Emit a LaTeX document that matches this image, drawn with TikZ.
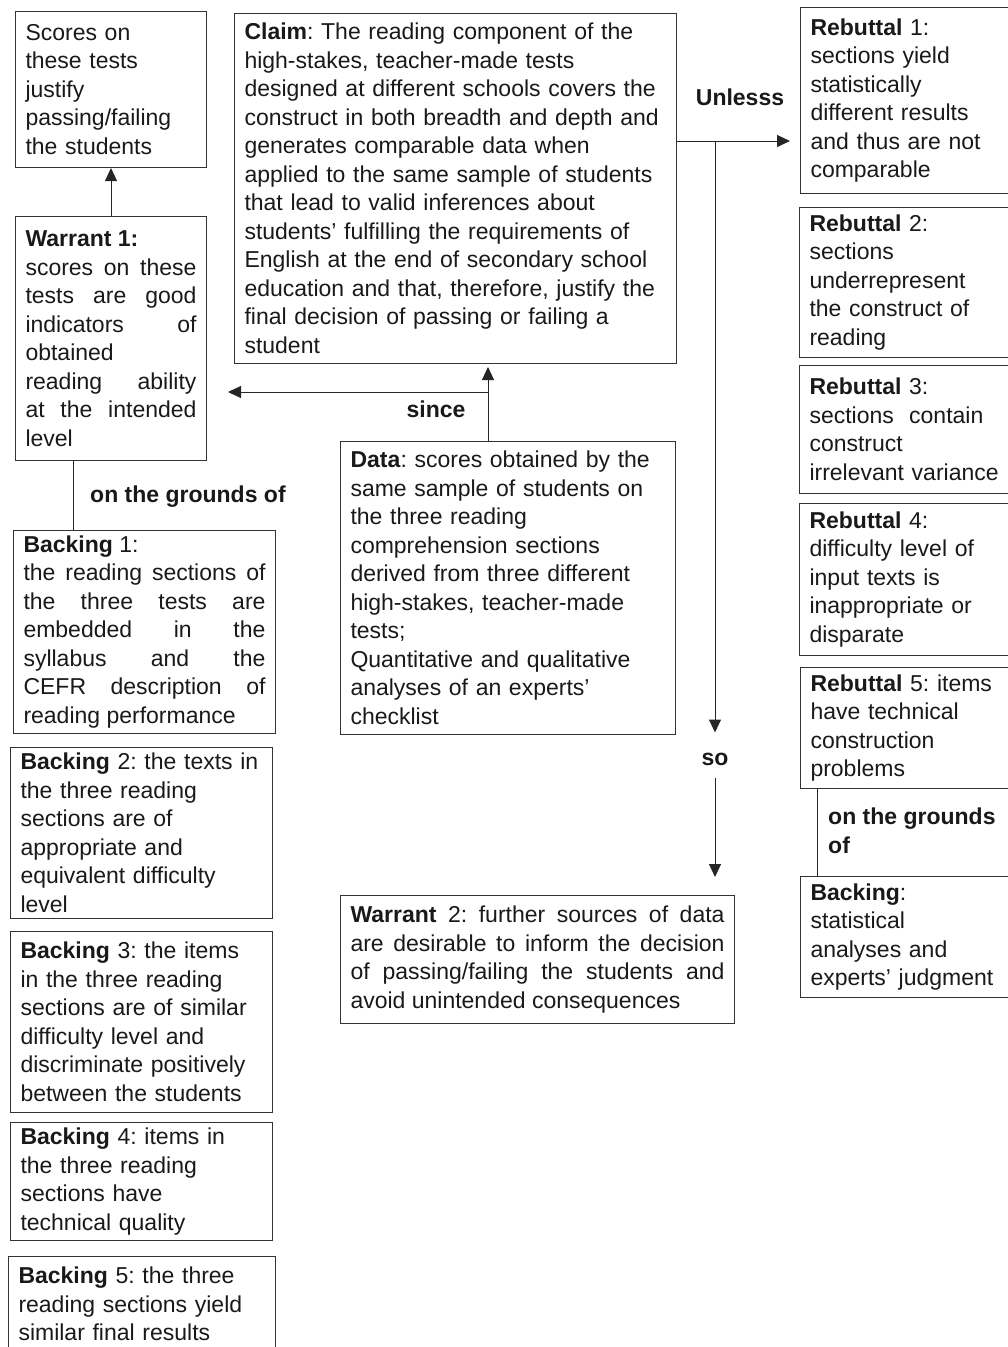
\documentclass[tikz,border=0pt]{standalone}
\usepackage{fontspec}
\setmainfont{Liberation Sans}
\frenchspacing
\usetikzlibrary{arrows.meta}
\usetikzlibrary{calc}
\usetikzlibrary{positioning}
\tikzset{%
  myedge/.style={-{Triangle[width=12pt,length=13pt]}, line width=1pt, draw=black!85},
  myline/.style={line width=1pt, draw=black!85},
  mybox/.style={draw=black!80, line width=1pt, anchor=north west, inner xsep=10pt, inner ysep=0pt, align=left, text=black!90},
  myjust/.style={mybox, align=justify},
  mylabel/.style={font=\fontsize{23}{28.5}\selectfont\bfseries, text=black!90, inner sep=0pt}
}

\begin{document}
\begin{tikzpicture}[x=1pt, y=-1pt, every node/.style={font=\fontsize{23}{28.5}\selectfont}]
\useasboundingbox (0,0) rectangle (1008,1347);

% left column
\node [mybox, text width=171pt, minimum height=156pt] (scores) at (15,11)
  {Scores on\\these tests\\justify\\passing/failing\\the students};
\node [myjust, text width=171pt, minimum height=244pt] (warrant1) at (15,216)
  {\textbf{Warrant 1:}\\scores on these\linebreak tests are good\linebreak indicators of\linebreak obtained\linebreak reading ability\linebreak at the intended\linebreak level};
\node [myjust, text width=242pt, minimum height=203pt] (backing1) at (13,530)
  {\textbf{Backing} 1:\\the reading sections of\linebreak the three tests are\linebreak embedded in the\linebreak syllabus and the\linebreak CEFR description of\linebreak reading performance};
\node [mybox, text width=242pt, minimum height=171pt] (backing2) at (10,747)
  {\textbf{Backing} 2: the texts in\\the three reading\\sections are of\\appropriate and\\equivalent difficulty\\level};
\node [mybox, text width=242pt, minimum height=181pt] (backing3) at (10,931)
  {\textbf{Backing} 3: the items\\in the three reading\\sections are of similar\\difficulty level and\\discriminate positively\\between the students};
\node [mybox, text width=242pt, minimum height=118pt] (backing4) at (10,1122)
  {\textbf{Backing} 4: items in\\the three reading\\sections have\\technical quality};
\node [mybox, text width=247pt, minimum height=95pt] (backing5) at (8,1256)
  {\textbf{Backing} 5: the three\\reading sections yield\\similar final results};

% middle column
\node [mybox, text width=422pt, minimum height=350pt] (claim) at (234,13)
  {\textbf{Claim}: The reading component of the\\high-stakes, teacher-made tests\\designed at different schools covers the\\construct in both breadth and depth and\\generates comparable data when\\applied to the same sample of students\\that lead to valid inferences about\\students' fulfilling the requirements of\\English at the end of secondary school\\education and that, therefore, justify the\\final decision of passing or failing a\\student};
\node [mybox, text width=315pt, minimum height=293pt] (data) at (340,441)
  {\textbf{Data}: scores obtained by the\\same sample of students on\\the three reading\\comprehension sections\\derived from three different\\high-stakes, teacher-made\\tests;\\Quantitative and qualitative\\analyses of an experts'\\checklist};
\node [myjust, text width=374pt, minimum height=128pt] (warrant2) at (340,895)
  {\textbf{Warrant} 2: further sources of data\linebreak are desirable to inform the decision\linebreak of passing/failing the students and\linebreak avoid unintended consequences};

% right column
\node [mybox, text width=200pt, minimum height=186pt] (rebut1) at (800,7)
  {\textbf{Rebuttal} 1:\\sections yield\\statistically\\different results\\and thus are not\\comparable};
\node [mybox, text width=201pt, minimum height=150pt] (rebut2) at (799,207)
  {\textbf{Rebuttal} 2:\\sections\\underrepresent\\the construct of\\reading};
\node [mybox, text width=201pt, minimum height=128pt] (rebut3) at (799,365)
  {\textbf{Rebuttal} 3:\\sections~ contain\\construct\\irrelevant variance};
\node [mybox, text width=201pt, minimum height=152pt] (rebut4) at (799,503)
  {\textbf{Rebuttal} 4:\\difficulty level of\\input texts is\\inappropriate or\\disparate};
\node [mybox, text width=200pt, minimum height=121pt] (rebut5) at (800,667)
  {\textbf{Rebuttal} 5: items\\have technical\\construction\\problems};
\node [mybox, text width=200pt, minimum height=121pt] (backingR) at (800,876)
  {\textbf{Backing}:\\statistical\\analyses and\\experts' judgment};

% labels
\node [mylabel] (unless) at (740,97) {Unlesss};
\node [mylabel] (since) at (436,409) {since};
\node [mylabel, anchor=west] (grounds1) at (90,497) {on the grounds of};
\node [mylabel] (so) at (715,759) {so};
\node [mylabel, anchor=north west, align=left] (grounds2) at (828,808) {on the grounds\\of};

\coordinate (sincept) at (488,392);
\coordinate (unlpt) at (715,141);
\coordinate (w1foot) at (73,0);
\coordinate (r5foot) at (817,0);

% connectors
\draw [myedge] (warrant1.north) -- (scores.south);
\draw [myline] (warrant1.south -| w1foot) -- (backing1.north -| w1foot);
\draw [myedge] (data.north -| sincept) -- ([yshift=-3pt]claim.south -| sincept);
\draw [myedge, shorten >=21pt] (sincept) -- (warrant1.east |- sincept);
\draw [myedge, shorten >=10pt] (claim.east |- unlpt) -- (rebut1.west |- unlpt);
\draw [myedge, shorten >=20pt] (unlpt) -- (so.north);
\draw [myedge, shorten >=18pt] ([yshift=-12pt]so.south) -- (warrant2.north -| so);
\draw [myline] (rebut5.south -| r5foot) -- (backingR.north -| r5foot);

\end{tikzpicture}
\end{document}
